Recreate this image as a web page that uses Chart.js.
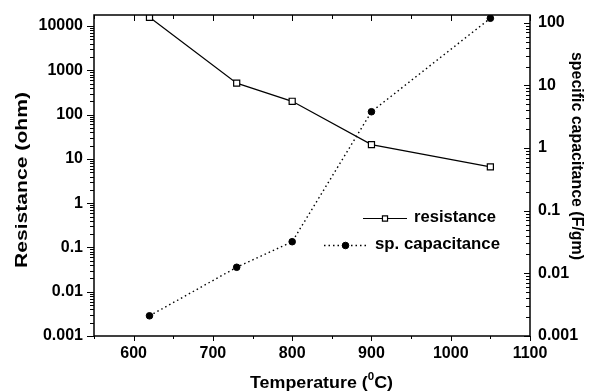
<!DOCTYPE html>
<html><head><meta charset="utf-8">
<script src="https://cdn.jsdelivr.net/npm/chart.js@4"></script>
<style>html,body{margin:0;padding:0;background:#fff}#wrap{width:589px;height:391px;position:relative}</style>
</head><body><div id="wrap"><canvas id="c"></canvas></div>
<script>
const temperatures = [620, 730, 800, 900, 1050];
const resistance = [15800, 515, 200, 21, 6.6];
const capacitance = [0.0021, 0.0125, 0.032, 3.8, 118];
const xTickValues = [550, 600, 650, 700, 750, 800, 850, 900, 950, 1000, 1050, 1100];
const xTickLabels = ['', '600', '', '700', '', '800', '', '900', '', '1000', '', '1100'];
const leftDecades = [0.001, 0.01, 0.1, 1, 10, 100, 1000, 10000];
const leftTickLabels = ['0.001', '0.01', '0.1', '1', '10', '100', '1000', '10000'];
const rightDecades = [0.001, 0.01, 0.1, 1, 10, 100];
const rightTickLabels = ['0.001', '0.01', '0.1', '1', '10', '100'];
const seriesNames = ['resistance', 'sp. capacitance'];
const axisTitles = { left: 'Resistance (ohm)', right: 'specific capacitance (F/gm)', bottomA: 'Temperature (', bottomSup: '0', bottomB: 'C)' };

const FONT = "'Liberation Sans', Arial, sans-serif";

function logTicks(decades, max) {
  const out = [];
  decades.forEach(d => { for (let k = 1; k <= 9; k++) { const v = +(k * d).toPrecision(6); if (v <= max * 1.0001) out.push({ value: v, major: k === 1 }); } });
  return out;
}
function decadeLabel(decades, labels, v) {
  const i = decades.findIndex(d => Math.abs(d - v) / d < 1e-6);
  return i >= 0 ? labels[i] : '';
}

function fitText(ctx, text, x, y, font, width, rot, align) {
  ctx.save();
  ctx.translate(x, y); ctx.rotate(rot || 0);
  ctx.font = font;
  const w = ctx.measureText(text).width;
  ctx.scale(width / w, 1);
  ctx.textAlign = align || 'center'; ctx.textBaseline = 'middle'; ctx.fillStyle = '#000';
  ctx.fillText(text, 0, 0);
  ctx.restore();
}

const decor = {
  id: 'decor',
  afterDraw(chart) {
    const ctx = chart.ctx, a = chart.chartArea;
    const sx = chart.scales.x, sl = chart.scales.y, sr = chart.scales.y1;
    ctx.save();
    ctx.strokeStyle = '#000';
    ctx.lineWidth = 1;
    ctx.beginPath();
    sx.ticks.forEach(t => {
      const px = Math.round(sx.getPixelForValue(t.value)) + 0.5;
      const major = t.value % 100 === 0;
      ctx.moveTo(px, a.bottom); ctx.lineTo(px, a.bottom + (major ? 5 : 3));
      ctx.moveTo(px, a.top); ctx.lineTo(px, a.top + (major ? 6 : 4));
    });
    sl.ticks.forEach(t => {
      const py = Math.round(sl.getPixelForValue(t.value)) + 0.5;
      const major = decadeLabel(leftDecades, leftTickLabels, t.value) !== '';
      ctx.moveTo(a.left, py); ctx.lineTo(a.left - (major ? 7 : 4), py);
    });
    sr.ticks.forEach(t => {
      const py = Math.round(sr.getPixelForValue(t.value)) + 0.5;
      const major = decadeLabel(rightDecades, rightTickLabels, t.value) !== '';
      ctx.moveTo(a.right, py); ctx.lineTo(a.right - (major ? 6 : 4), py);
    });
    ctx.stroke();
    ctx.lineWidth = 1.5;
    ctx.strokeRect(a.left, a.top, a.right - a.left, a.bottom - a.top);

    // axis titles
    fitText(ctx, axisTitles.left, 22, 180, 'bold 17px ' + FONT, 176, -Math.PI / 2);
    fitText(ctx, axisTitles.right, 577, 156, 'bold 17px ' + FONT, 208, Math.PI / 2);
    // bottom title with superscript
    ctx.font = 'bold 17px ' + FONT;
    const wA = ctx.measureText(axisTitles.bottomA).width;
    const wB = ctx.measureText(axisTitles.bottomB).width;
    ctx.font = 'bold 11px ' + FONT;
    const wS = ctx.measureText(axisTitles.bottomSup).width;
    const total = wA + wS + wB, k = 143 / total;
    ctx.save();
    ctx.translate(250, 388); ctx.scale(k, 1);
    ctx.fillStyle = '#000'; ctx.textBaseline = 'alphabetic'; ctx.textAlign = 'left';
    ctx.font = 'bold 17px ' + FONT; ctx.fillText(axisTitles.bottomA, 0, 0);
    ctx.font = 'bold 11px ' + FONT; ctx.fillText(axisTitles.bottomSup, wA, -8);
    ctx.font = 'bold 17px ' + FONT; ctx.fillText(axisTitles.bottomB, wA + wS, 0);
    ctx.restore();

    // legend
    const ds = chart.data.datasets;
    const rows = [
      { d: ds[0], y: 218, x0: 363, x1: 407, tx: 414, w: 82, r: 3.6 },
      { d: ds[1], y: 245, x0: 324, x1: 367, tx: 375, w: 125, r: 3.3 }
    ];
    rows.forEach(r => {
      ctx.save();
      ctx.strokeStyle = '#000'; ctx.lineWidth = r.d.borderWidth;
      ctx.setLineDash(r.d.borderDash || []);
      ctx.beginPath(); ctx.moveTo(r.x0, r.y + 0.5); ctx.lineTo(r.x1, r.y + 0.5); ctx.stroke();
      ctx.restore();
      ctx.save();
      ctx.fillStyle = r.d.pointBackgroundColor; ctx.strokeStyle = '#000'; ctx.lineWidth = r.d.pointBorderWidth;
      Chart.helpers.drawPoint(ctx, { pointStyle: r.d.pointStyle, radius: r.r, borderWidth: r.d.pointBorderWidth }, (r.x0 + r.x1) / 2, r.y + 0.5);
      ctx.restore();
      fitText(ctx, r.d.label, r.tx, r.y, 'bold 16px ' + FONT, r.w, 0, 'left');
    });
    ctx.restore();
  }
};

const tickFont = { family: FONT, size: 16, weight: 'bold' };
function noPad(s) { s.paddingTop = 0; s.paddingBottom = 0; s.paddingLeft = 0; s.paddingRight = 0; }

new Chart(document.getElementById('c'), {
  type: 'line',
  data: {
    datasets: [
      {
        label: seriesNames[0],
        data: temperatures.map((t, i) => ({ x: t, y: resistance[i] })),
        yAxisID: 'y',
        borderColor: '#000', borderWidth: 1.2, tension: 0,
        pointStyle: 'rect', pointRadius: 4.3, pointHoverRadius: 4.3,
        pointBackgroundColor: '#fff', pointBorderColor: '#000', pointBorderWidth: 1.2
      },
      {
        label: seriesNames[1],
        data: temperatures.map((t, i) => ({ x: t, y: capacitance[i] })),
        yAxisID: 'y1',
        borderColor: '#000', borderWidth: 1.4, borderDash: [1.5, 3], tension: 0,
        pointStyle: 'circle', pointRadius: 3.3, pointHoverRadius: 3.3,
        pointBackgroundColor: '#000', pointBorderColor: '#000', pointBorderWidth: 1
      }
    ]
  },
  options: {
    responsive: true, maintainAspectRatio: false, animation: false,
    layout: { padding: { top: 15, left: 0, right: 0, bottom: 0 } },
    plugins: { legend: { display: false }, tooltip: { enabled: false } },
    events: [],
    scales: {
      x: {
        type: 'linear', min: 550, max: 1100,
        afterBuildTicks: s => { s.ticks = xTickValues.map(v => ({ value: v })); },
        afterFit: s => { s.height = 55; noPad(s); },
        grid: { display: false, drawTicks: false }, border: { display: false },
        ticks: { autoSkip: false, maxRotation: 0, padding: 8, color: '#000', font: tickFont,
          callback: v => xTickLabels[xTickValues.indexOf(v)] || '' }
      },
      y: {
        type: 'logarithmic', position: 'left', min: 0.001, max: 17800,
        afterBuildTicks: s => { s.ticks = logTicks(leftDecades, 17800); },
        afterFit: s => { s.width = 94; noPad(s); },
        grid: { display: false, drawTicks: false }, border: { display: false },
        ticks: { autoSkip: false, padding: 11, color: '#000', font: tickFont,
          callback: v => decadeLabel(leftDecades, leftTickLabels, v) }
      },
      y1: {
        type: 'logarithmic', position: 'right', min: 0.001, max: 133,
        afterBuildTicks: s => { s.ticks = logTicks(rightDecades, 133); },
        afterFit: s => { s.width = 59; noPad(s); },
        grid: { display: false, drawTicks: false }, border: { display: false },
        ticks: { autoSkip: false, padding: 8, color: '#000', font: tickFont,
          callback: v => decadeLabel(rightDecades, rightTickLabels, v) }
      }
    }
  },
  plugins: [decor]
});
</script></body></html>
